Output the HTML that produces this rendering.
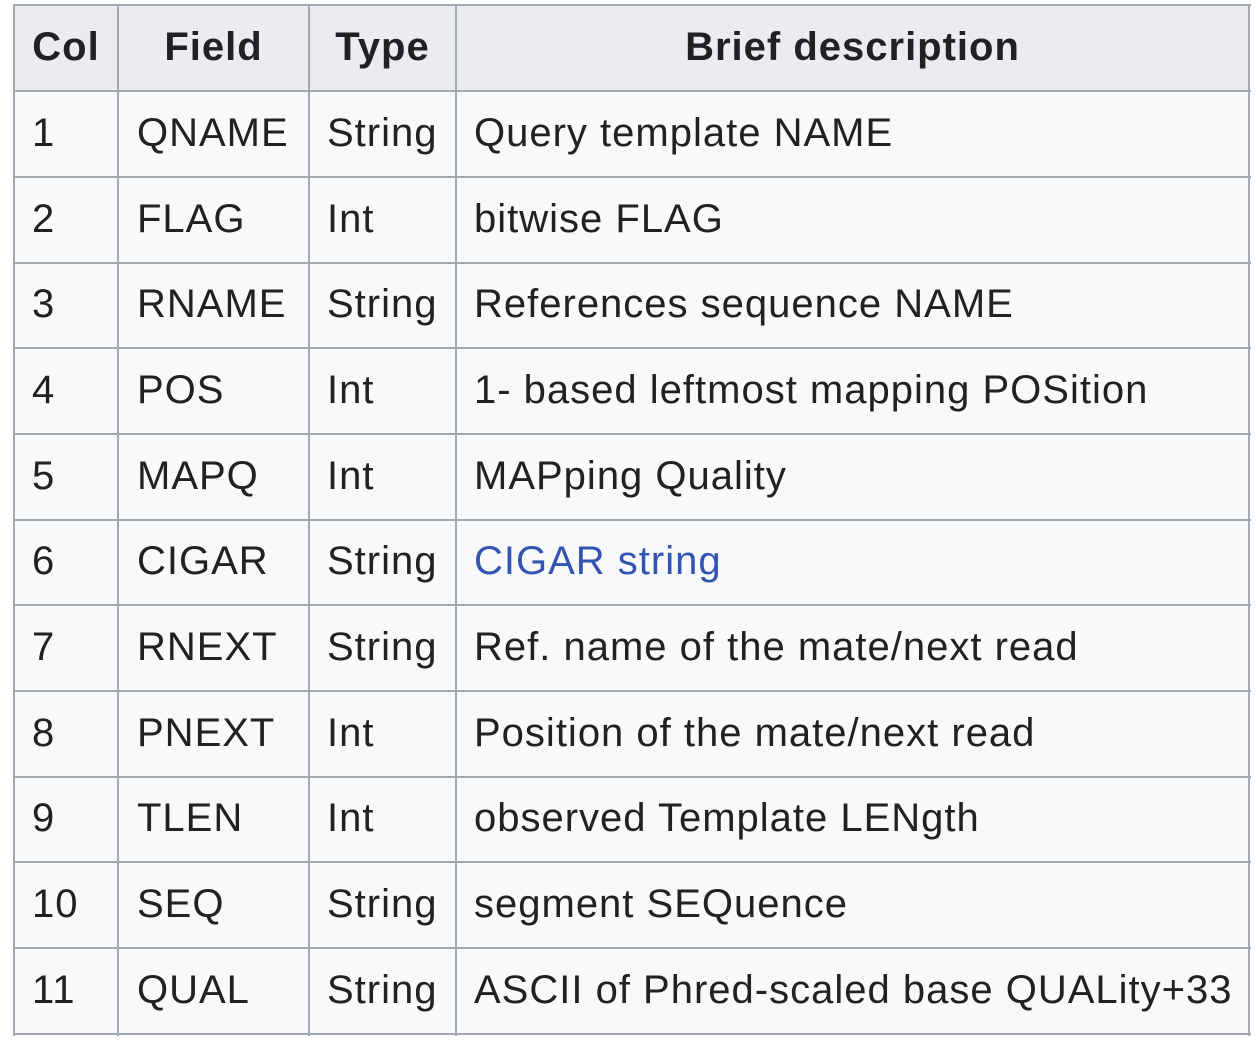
<!DOCTYPE html>
<html><head><meta charset="utf-8"><style>
html,body{margin:0;padding:0;background:#fff;width:1256px;height:1042px;overflow:hidden}
#t{position:absolute;left:13px;top:4px;width:1236px;height:1030px;background:#f8f9fa;box-sizing:border-box}
.h{position:absolute;left:13px;top:4px;width:1236px;height:87px;background:#eaecf0}
.lv{position:absolute;top:4px;height:1032px;width:2px;background:#a2a9b1}
.lh{position:absolute;left:13px;width:1238px;height:2px;background:#a2a9b1}
.c{position:absolute;font-family:"Liberation Sans",Arial,sans-serif;font-size:40px;letter-spacing:1px;color:#202122;white-space:nowrap;line-height:86px;height:86px}
.b{font-weight:bold;text-align:center}
a{color:#3454b4;text-decoration:none}
</style></head><body>
<div id="t"></div><div class="h"></div>
<div class="lv" style="left:13px"></div><div class="lv" style="left:117px"></div><div class="lv" style="left:308px"></div><div class="lv" style="left:455px"></div><div class="lv" style="left:1248px"></div>
<div class="lh" style="top:4px"></div><div class="lh" style="top:90px"></div><div class="lh" style="top:176px"></div><div class="lh" style="top:262px"></div><div class="lh" style="top:347px"></div><div class="lh" style="top:433px"></div><div class="lh" style="top:519px"></div><div class="lh" style="top:604px"></div><div class="lh" style="top:690px"></div><div class="lh" style="top:776px"></div><div class="lh" style="top:861px"></div><div class="lh" style="top:947px"></div><div class="lh" style="top:1033px"></div>
<div class="c b" style="left:15px;width:102px;top:4px">Col</div>
<div class="c b" style="left:119px;width:189px;top:4px">Field</div>
<div class="c b" style="left:310px;width:145px;top:4px">Type</div>
<div class="c b" style="left:457px;width:791px;top:4px">Brief description</div>

<div class="c" style="left:32px;top:90px">1</div><div class="c" style="left:137px;top:90px">QNAME</div><div class="c" style="left:327px;top:90px">String</div><div class="c" style="left:474px;top:90px">Query template NAME</div>
<div class="c" style="left:32px;top:176px">2</div><div class="c" style="left:137px;top:176px">FLAG</div><div class="c" style="left:327px;top:176px">Int</div><div class="c" style="left:474px;top:176px">bitwise FLAG</div>
<div class="c" style="left:32px;top:261px">3</div><div class="c" style="left:137px;top:261px">RNAME</div><div class="c" style="left:327px;top:261px">String</div><div class="c" style="left:474px;top:261px">References sequence NAME</div>
<div class="c" style="left:32px;top:347px">4</div><div class="c" style="left:137px;top:347px">POS</div><div class="c" style="left:327px;top:347px">Int</div><div class="c" style="left:474px;top:347px">1- based leftmost mapping POSition</div>
<div class="c" style="left:32px;top:433px">5</div><div class="c" style="left:137px;top:433px">MAPQ</div><div class="c" style="left:327px;top:433px">Int</div><div class="c" style="left:474px;top:433px">MAPping Quality</div>
<div class="c" style="left:32px;top:518px">6</div><div class="c" style="left:137px;top:518px">CIGAR</div><div class="c" style="left:327px;top:518px">String</div><div class="c" style="left:474px;top:518px"><a>CIGAR string</a></div>
<div class="c" style="left:32px;top:604px">7</div><div class="c" style="left:137px;top:604px">RNEXT</div><div class="c" style="left:327px;top:604px">String</div><div class="c" style="left:474px;top:604px">Ref. name of the mate/next read</div>
<div class="c" style="left:32px;top:690px">8</div><div class="c" style="left:137px;top:690px">PNEXT</div><div class="c" style="left:327px;top:690px">Int</div><div class="c" style="left:474px;top:690px">Position of the mate/next read</div>
<div class="c" style="left:32px;top:775px">9</div><div class="c" style="left:137px;top:775px">TLEN</div><div class="c" style="left:327px;top:775px">Int</div><div class="c" style="left:474px;top:775px">observed Template LENgth</div>
<div class="c" style="left:32px;top:861px">10</div><div class="c" style="left:137px;top:861px">SEQ</div><div class="c" style="left:327px;top:861px">String</div><div class="c" style="left:474px;top:861px">segment SEQuence</div>
<div class="c" style="left:32px;top:947px">11</div><div class="c" style="left:137px;top:947px">QUAL</div><div class="c" style="left:327px;top:947px">String</div><div class="c" style="left:474px;top:947px">ASCII of Phred-scaled base QUALity+33</div>
</body></html>
